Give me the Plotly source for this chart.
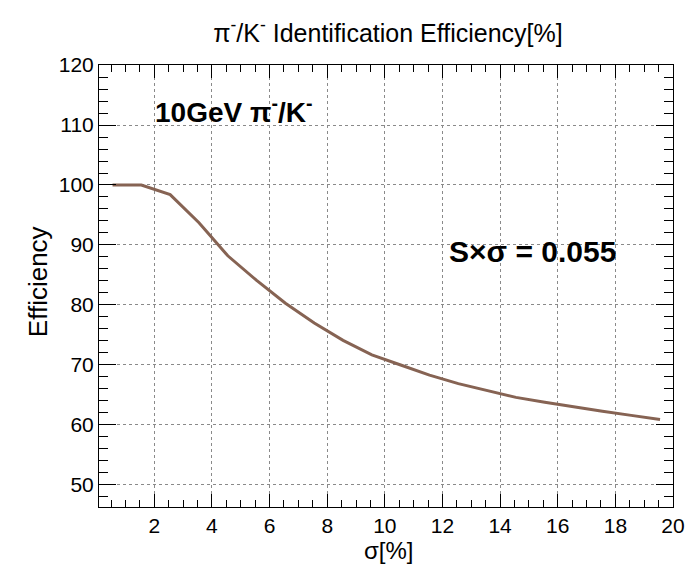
import plotly.graph_objects as go

sigma = [0.55, 1.55, 2.55, 3.55, 4.55, 5.55, 6.55, 7.55, 8.55, 9.55,
         10.55, 11.55, 12.55, 13.55, 14.55, 15.55, 16.55, 17.55, 18.55, 19.55]
efficiency = [100.0, 100.0, 98.4, 93.7, 88.2, 84.1, 80.3, 77.0, 74.1, 71.7,
              70.0, 68.3, 66.9, 65.7, 64.6, 63.8, 63.0, 62.3, 61.6, 60.9]

x_ticks = [2, 4, 6, 8, 10, 12, 14, 16, 18, 20]
y_ticks = [50, 60, 70, 80, 90, 100, 110, 120]

FONT = "Liberation Sans, Arial, Helvetica, sans-serif"

fig = go.Figure()
fig.add_trace(go.Scatter(
    x=sigma, y=efficiency, mode="lines",
    line=dict(color="#866353", width=3),
    showlegend=False, hoverinfo="x+y",
))

axis_common = dict(
    showline=True, linecolor="black", linewidth=1, mirror="allticks",
    ticks="inside", tickcolor="black", tickwidth=1,
    showgrid=True, gridcolor="#8a8a8a", griddash="dot", gridwidth=1,
    zeroline=False,
    tickfont=dict(family=FONT, size=21, color="black"),
)

fig.update_xaxes(
    range=[0.08, 20], tickvals=x_ticks, ticklen=13,
    minor=dict(dtick=0.5, ticks="inside", ticklen=7, tickcolor="black", showgrid=False),
    **axis_common,
)
fig.update_yaxes(
    range=[46.33, 120], tickvals=y_ticks, ticklen=17,
    minor=dict(dtick=2, ticks="inside", ticklen=9, tickcolor="black", showgrid=False),
    **axis_common,
)

fig.update_layout(
    width=689, height=557,
    margin=dict(l=91, r=12, t=57, b=58),
    paper_bgcolor="white", plot_bgcolor="white",
    font=dict(family=FONT, color="black"),
    title=dict(
        text="π<sup>-</sup>/K<sup>-</sup> Identification Efficiency[%]",
        x=(388 - 8) / 689, xanchor="center", y=1 - 25 / 557, yanchor="middle",
        font=dict(family=FONT, size=25, color="black"),
    ),
    annotations=[
        dict(text="σ[%]", xref="paper", yref="paper", x=0.505, y=-0.099,
             xanchor="center", yanchor="middle", showarrow=False, borderpad=0,
             font=dict(family=FONT, size=24, color="black")),
        dict(text="Efficiency", xref="paper", yref="paper", x=-0.106, y=0.509,
             xanchor="center", yanchor="middle", showarrow=False, textangle=-90,
             font=dict(family=FONT, size=26, color="black")),
        dict(text="<b>10GeV π<sup>-</sup>/K<sup>-</sup></b>", xref="paper", yref="paper",
             x=0.094, y=0.898, xanchor="left", yanchor="middle", showarrow=False,
             font=dict(family=FONT, size=28, color="black")),
        dict(text="<b>S×σ = 0.055</b>", xref="paper", yref="paper",
             x=0.606, y=0.579, xanchor="left", yanchor="middle", showarrow=False,
             font=dict(family=FONT, size=30, color="black")),
    ],
)

fig.write_html("out.html")
